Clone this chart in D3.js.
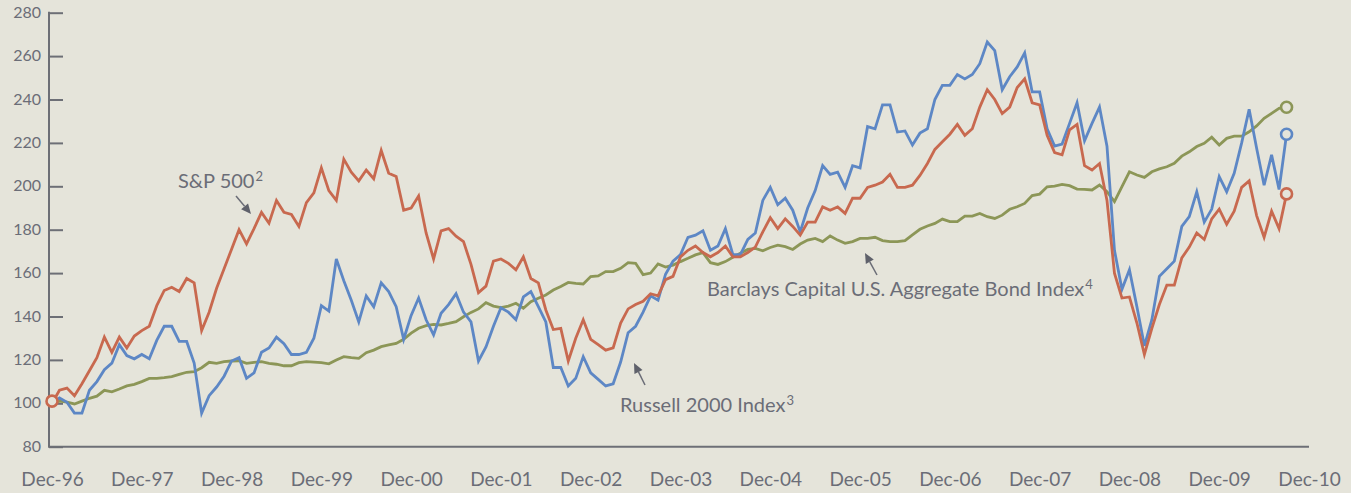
<!DOCTYPE html>
<html>
<head>
<meta charset="utf-8">
<script src="https://cdn.jsdelivr.net/npm/d3@7"></script>
<style>
  html, body { margin: 0; padding: 0; background: #e5e4da; }
  svg { display: block; }
  text { font-family: Lato, "Open Sans", sans-serif; fill: #6b6d77; }
</style>
</head>
<body>
<svg id="chart" width="1351" height="493"></svg>
<script>
// ---- data (monthly index values, Dec-96 = 100) ----
const startMonth = "Dec-96";
const xTickLabels = ["Dec-96","Dec-97","Dec-98","Dec-99","Dec-00","Dec-01","Dec-02","Dec-03","Dec-04","Dec-05","Dec-06","Dec-07","Dec-08","Dec-09","Dec-10"];
const yTicks = [80,100,120,140,160,180,200,220,240,260,280];

const sp500 = [100,106,107,103.5,109,115,121,130.5,123.5,130.5,125.5,131,133.5,135.5,145,152,153.5,151.5,157.5,155.5,
133.5,142,153,162,171,180,173.5,180.5,188,183,193.5,188,187,181.5,192.5,197,208.5,198,193.5,212.5,
206.5,202.5,207.5,203.5,216.5,206,204.5,189,190,195.5,178.5,166.5,179.5,180.5,177,174.5,164,151,154,165.5,
166.5,164.5,161.5,167.5,157.5,155.5,143,134,134.5,119.5,130,138.5,129.5,127,124.5,125.5,137,143.5,145.5,147,
150.5,149.5,157,158.5,167.5,170.5,172.5,169.5,167.5,169.5,172.5,167.5,167.5,169.5,172,179,185.5,180.5,185,181.5,
177.5,183.5,183.5,190.5,189,190.5,187.5,194.5,194.5,199.5,200.5,202,205.5,199.5,199.5,200.5,205,210.5,217,220.5,
224,228.5,223.5,226.5,236.5,244.5,240,233.5,236.5,245.5,249.5,238.5,237.5,223.5,215.5,214.5,226,228.5,209.5,207.5,
210.5,193.5,160,148.5,149,137,122.5,134.5,145.5,154.5,154.5,167,172,178.5,175.5,185,189.5,182.5,188.5,199.5,
202.5,186.5,176.5,188.5,180.5,196.5];

const russell2000 = [100,102.5,100.5,95.5,95.5,106,110,115.5,118.5,127,122,120.5,122.5,120.5,129,135.5,135.5,128.5,128.5,118.5,
95.5,103.5,107.5,112.5,119.5,121,111.5,114,123.5,125.5,130.5,127.5,122.5,122.5,123.5,130,145,142.5,166.5,156.5,
147.5,137.5,149.5,144.5,155.5,151.5,144.5,129.5,140.5,148.5,138.5,131.5,141.5,145.5,150.5,142,137.5,119.5,126,135.5,
144,142,138.5,149,151.5,144.5,137.5,116.5,116.5,108,111.5,121.5,114,111,108,109,119,132.5,135.5,142,
149.5,147.5,159.5,165.5,168.5,176.5,177.5,179.5,170.5,172.5,180.5,168.5,168.5,175.5,178.5,193.5,199.5,191.5,194.5,189,
179,190,198,209.5,205.5,206.5,199.5,209.5,208.5,227.5,226.5,237.5,237.5,225,225.5,219,224.5,226.5,240,246.5,
246.5,251.5,249.5,251.5,256.5,266.5,262.5,244.5,250.5,255,261.5,243.5,243.5,226.5,218.5,219.5,229,238.5,221,229,
236.5,218.5,170.5,152.5,161.5,144.5,126.5,138.5,158.5,162,165.5,181.5,186,197.5,183.5,189.5,204.5,197.5,206,220,
235.5,217.5,200.5,214.5,198.5,224];

const barclaysAgg = [100,101,100.5,99.7,101,102.3,103.3,106,105.3,106.6,108,108.7,110,111.5,111.5,111.8,112.3,113.3,114.3,114.6,
116.4,118.9,118.4,119.2,119.5,119.6,118.4,118.9,119.2,118.4,118,117.3,117.3,118.7,119.2,119,118.7,118.2,120,121.5,
121,120.7,123.3,124.5,126.1,126.9,127.6,129.5,132.3,134.6,135.8,136.4,136.1,136.8,137.6,139.9,141.9,143.5,146.4,144.8,
144.1,144.8,146.1,143.8,146.8,148.4,149.9,152.2,153.8,155.7,155.3,155,158.4,158.7,160.7,160.7,162.2,164.8,164.5,159.3,
160,164.2,162.8,163.7,165.3,166.8,168.4,169.4,164.8,164,165.3,167.3,169.1,170.9,171.4,170.3,171.8,172.9,172.2,170.9,
173.4,175.2,176,174.5,177.1,175.2,173.7,174.5,176,176,176.5,175,174.5,174.5,175,177.6,180.2,181.7,182.9,184.9,
183.7,183.7,186.3,186.3,187.5,186,185.2,186.7,189.4,190.6,192.1,195.7,196.4,199.8,200.1,200.9,200.3,198.7,198.6,198.3,
200.6,197.5,192.9,199.8,206.7,205.2,204.1,206.7,208,209,210.6,213.9,215.9,218.3,219.8,222.6,219,222.1,223.1,223.1,
225.1,227.8,231.3,233.6,235.9,236.4];

const seriesNames = ["Barclays Capital U.S. Aggregate Bond Index", "Russell 2000 Index", "S&P 500"];
const seriesColors = ["#8c9657", "#5d87c5", "#c8694f"];

// ---- layout ----
const svg = d3.select("#chart");
const bg = "#e5e4da";
svg.append("rect").attr("width", 1351).attr("height", 493).attr("fill", bg);

const x = d3.scaleLinear().domain([0, 168]).range([52, 1309]);
const y = d3.scaleLinear().domain([80, 280]).range([446.7, 12.7]);
const axisColor = "#6d6f76";

// y axis (ticks pointing right into the plot)
const yAxis = svg.append("g").attr("transform", "translate(49,0)")
  .call(d3.axisRight(y).tickValues(yTicks).tickSize(14).tickFormat(d => ""));
yAxis.select(".domain").remove();
yAxis.selectAll("line").attr("stroke", axisColor).attr("stroke-width", 2);
svg.append("line").attr("x1", 49).attr("x2", 49).attr("y1", y(280) - 1).attr("y2", y(80))
  .attr("stroke", axisColor).attr("stroke-width", 2);
svg.append("g").selectAll("text").data(yTicks).join("text")
  .attr("x", 41).attr("y", d => y(d)).attr("dy", "0.32em")
  .attr("text-anchor", "end").style("font-size", "16px").text(d => d);

// x axis
svg.append("line").attr("x1", 48).attr("x2", 1309).attr("y1", y(80)).attr("y2", y(80))
  .attr("stroke", axisColor).attr("stroke-width", 2);
const xAxis = svg.append("g").attr("transform", `translate(0,${y(80)})`)
  .call(d3.axisBottom(x).tickValues(d3.range(0, 169, 12)).tickSize(0)
    .tickFormat((d, i) => xTickLabels[i]));
xAxis.select(".domain").remove();
xAxis.selectAll("text").attr("y", 0).attr("dy", "39px")
  .style("font-size", "19px").style("font-family", "Lato, sans-serif").attr("fill", "#6b6d77");

// lines
const line = d3.line().x((d, i) => x(i)).y(d => y(d));
const allSeries = [barclaysAgg, russell2000, sp500];
allSeries.forEach((s, k) => {
  svg.append("path").datum(s).attr("d", line)
    .attr("fill", "none").attr("stroke", seriesColors[k])
    .attr("stroke-width", 2.8).attr("stroke-linejoin", "miter");
});

// end markers
allSeries.forEach((s, k) => {
  svg.append("circle").attr("cx", x(s.length - 1)).attr("cy", y(s[s.length - 1])).attr("r", 5.5)
    .attr("fill", bg).attr("stroke", seriesColors[k]).attr("stroke-width", 2.6);
});
// start marker
svg.append("circle").attr("cx", x(0)).attr("cy", y(101)).attr("r", 5.5)
  .attr("fill", bg).attr("stroke", seriesColors[2]).attr("stroke-width", 2.6);

// annotations
function arrow(x1, y1, x2, y2) {
  const ang = Math.atan2(y2 - y1, x2 - x1);
  const L = 10, W = 4.5;
  const bx = x2 - L * Math.cos(ang), by = y2 - L * Math.sin(ang);
  svg.append("line").attr("x1", x1).attr("y1", y1).attr("x2", bx).attr("y2", by)
    .attr("stroke", "#6b6d77").attr("stroke-width", 1.5);
  const px = -Math.sin(ang) * W, py = Math.cos(ang) * W;
  svg.append("path")
    .attr("d", `M${x2},${y2}L${bx + px},${by + py}L${bx - px},${by - py}Z`)
    .attr("fill", "#5f616b");
}
function label(tx, ty, main, sup) {
  const t = svg.append("text").attr("x", tx).attr("y", ty).style("font-size", "20px");
  t.append("tspan").text(main);
  t.append("tspan").attr("dx", "1").attr("dy", "-7").style("font-size", "13px").text(sup);
}
label(178, 188, "S&P 500", "2");
arrow(236, 196, 251, 214);
label(620, 412, "Russell 2000 Index", "3");
arrow(645, 385, 634, 363);
label(707, 296, "Barclays Capital U.S. Aggregate Bond Index", "4");
arrow(877, 275, 865, 253);
</script>
</body>
</html>
